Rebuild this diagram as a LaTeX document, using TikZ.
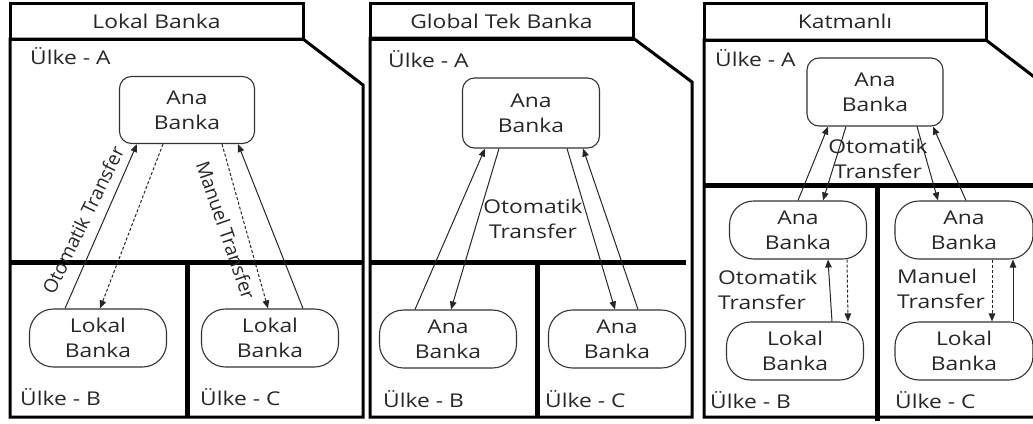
\documentclass[tikz,border=0pt]{standalone}
\usepackage{fontspec}
\setmainfont{Open Sans}[FakeStretch=1.2]
\newfontfamily\slantedlabelfont{Open Sans}
\usetikzlibrary{arrows.meta}

\definecolor{txt}{HTML}{262626}
\definecolor{edge}{HTML}{333333}

\begin{document}
\begin{tikzpicture}[x=1pt, y=-1pt,
  every node/.style={font=\fontsize{19}{25}\selectfont, text=txt, inner sep=0pt},
  panel/.style={draw=black, line width=3pt, line join=miter},
  divider/.style={draw=black, line width=5pt},
  tabbox/.style={draw=black, line width=3pt, minimum height=36pt},
  country/.style={anchor=base west},
  topbank/.style={draw=edge, line width=1.1pt, rounded corners=12pt,
    minimum width=136pt, minimum height=68pt, align=center},
  bank/.style={draw=edge, line width=1.1pt, rounded corners=24pt,
    minimum width=137pt, minimum height=58pt, align=center},
  link/.style={draw=txt, line width=1pt, -{Triangle[length=8pt,width=6.5pt]}},
  manual/.style={link, dash pattern=on 3pt off 2pt},
  flowlabel/.style={align=center},
  sidelabel/.style={align=left, anchor=west},
  rotlabel/.style={font=\slantedlabelfont\fontsize{19}{25}\selectfont},
]
\useasboundingbox (0,0) rectangle (1033,423);

% ---------------- Lokal Banka ----------------
\draw[panel] (10,39) -- (303,39) -- (363,85) -- (363,417) -- (10,417) -- cycle;
\node[tabbox, minimum width=293pt] (tab1) at (156.5,21) {Lokal Banka};
\draw[divider] (10,262) -- (363,262);
\draw[divider] (187,262) -- (187,417);

\node[country] (a1) at (30,64) {Ülke - A};
\node[country] (b1) at (20,405) {Ülke - B};
\node[country] (c1) at (200,405) {Ülke - C};

\node[topbank, minimum width=135pt, minimum height=67pt] (ana1) at (187,110) {Ana\\Banka};
\node[bank] (lokB1) at (98,338) {Lokal\\Banka};
\node[bank] (lokC1) at (270,338) {Lokal\\Banka};

\draw[link] ([xshift=-33pt]lokB1.north) -- ([xshift=-50pt]ana1.south);
\draw[manual] ([xshift=-24pt]ana1.south) -- ([xshift=2pt]lokB1.north);
\draw[manual] ([xshift=35pt]ana1.south) -- ([xshift=-2pt]lokC1.north);
\draw[link] ([xshift=33pt]lokC1.north) -- ([xshift=51pt]ana1.south);

\node[rotlabel, rotate=64] (auto1) at (83,220) {Otomatik Transfer};
\node[rotlabel, rotate=-71] (man1) at (226,230) {Manuel Transfer};

% ---------------- Global Tek Banka ----------------
\draw[panel] (370,38) -- (633,38) -- (692,82) -- (692,417) -- (370,417) -- cycle;
\node[tabbox, minimum width=263pt] (tab2) at (501.5,21) {Global Tek Banka};
\draw[divider] (370,262) -- (686,262);
\draw[divider] (537,262) -- (537,417);

\node[country] (a2) at (388,67) {Ülke - A};
\node[country] (b2) at (383,407) {Ülke - B};
\node[country] (c2) at (545,407) {Ülke - C};

\node[topbank, minimum width=137pt, minimum height=70pt] (ana2) at (531,113) {Ana\\Banka};
\node[bank] (anaB2) at (448,339) {Ana\\Banka};
\node[bank] (anaC2) at (617,339) {Ana\\Banka};

\draw[link] ([xshift=-33pt]anaB2.north) -- ([xshift=-46pt]ana2.south);
\draw[link] ([xshift=-32pt]ana2.south) -- ([xshift=3pt]anaB2.north);
\draw[link] ([xshift=36pt]ana2.south) -- ([xshift=-2pt]anaC2.north);
\draw[link] ([xshift=21pt]anaC2.north) -- ([xshift=52pt]ana2.south);

\node[flowlabel] (auto2) at (533,219) {Otomatik\\Transfer};

% ---------------- Katmanlı ----------------
\draw[panel] (704,40) -- (986,40) -- (1046,86) -- (1046,417) -- (704,417) -- cycle;
\node[tabbox, minimum width=282pt, minimum height=37pt] (tab3) at (845,21.5) {Katmanlı};
\draw[divider] (704,185) -- (1046,185);
\draw[divider] (877,185) -- (877,421);

\node[country] (a3) at (715,66) {Ülke - A};
\node[country] (b3) at (710,408) {Ülke - B};
\node[country] (c3) at (895,408) {Ülke - C};

\node[topbank] (ana3) at (875,92) {Ana\\Banka};
\node[bank] (anaB3) at (798,230) {Ana\\Banka};
\node[bank, minimum width=138pt] (anaC3) at (964,230) {Ana\\Banka};
\node[bank] (lokB3) at (795,351) {Lokal\\Banka};
\node[bank, minimum width=138pt] (lokC3) at (964,351) {Lokal\\Banka};

\draw[link] (anaB3.north) -- ([xshift=-47pt]ana3.south);
\draw[link] ([xshift=-29pt]ana3.south) -- ([xshift=25pt]anaB3.north);
\draw[link] ([xshift=42pt]ana3.south) -- ([xshift=-26pt]anaC3.north);
\draw[link] ([xshift=2pt]anaC3.north) -- ([xshift=58pt]ana3.south);

\node[flowlabel] (auto3) at (878,159) {Otomatik\\Transfer};

\draw[link] ([xshift=37pt]lokB3.north) -- ([xshift=30pt]anaB3.south);
\draw[manual] ([xshift=49pt]anaB3.south) -- ([xshift=53pt]lokB3.north);
\node[sidelabel] (auto4) at (718,290) {Otomatik\\Transfer};

\draw[manual] ([xshift=28pt]anaC3.south) -- ([xshift=28pt]lokC3.north);
\draw[link] ([xshift=49pt]lokC3.north) -- ([xshift=49pt]anaC3.south);
\node[sidelabel] (man3) at (897,289) {Manuel\\Transfer};
\end{tikzpicture}
\end{document}
